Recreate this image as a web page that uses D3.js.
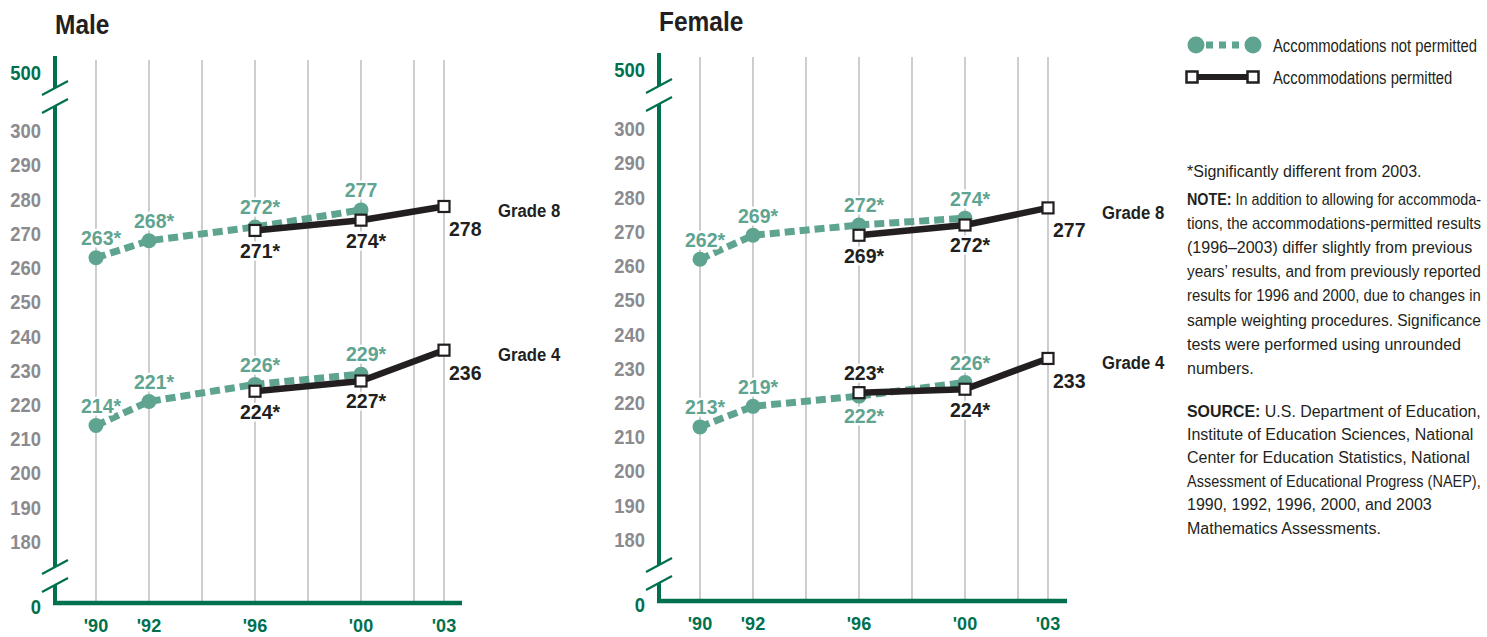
<!DOCTYPE html>
<html><head><meta charset="utf-8">
<script src="https://cdn.jsdelivr.net/npm/d3@7"></script>
<style>
html,body{margin:0;padding:0;background:#fff;overflow:hidden;}
svg{display:block}
</style></head><body>
<svg id="chart" width="1487" height="637"></svg>
<script>
// ---------- data ----------
const npYears = [1990, 1992, 1996, 2000];
const pYears = [1996, 2000, 2003];
const gridYears = [1990, 1992, 1994, 1996, 1998, 2000, 2002, 2003];
const xTickYears = [1990, 1992, 1996, 2000, 2003];
const xTickLabels = ["'90", "'92", "'96", "'00", "'03"];
const yTicks = [180, 190, 200, 210, 220, 230, 240, 250, 260, 270, 280, 290, 300];
const yEndTicks = [0, 500];

const maleG8NP = [263, 268, 272, 277];
const maleG8NPLabels = ["263*", "268*", "272*", "277"];
const maleG8P = [271, 274, 278];
const maleG8PLabels = ["271*", "274*", "278"];
const maleG4NP = [214, 221, 226, 229];
const maleG4NPLabels = ["214*", "221*", "226*", "229*"];
const maleG4P = [224, 227, 236];
const maleG4PLabels = ["224*", "227*", "236"];

const femaleG8NP = [262, 269, 272, 274];
const femaleG8NPLabels = ["262*", "269*", "272*", "274*"];
const femaleG8P = [269, 272, 277];
const femaleG8PLabels = ["269*", "272*", "277"];
const femaleG4NP = [213, 219, 222, 226];
const femaleG4NPLabels = ["213*", "219*", "222*", "226*"];
const femaleG4P = [223, 224, 233];
const femaleG4PLabels = ["223*", "224*", "233"];

const gradeNames = ["Grade 8", "Grade 4"];
const panelTitles = ["Male", "Female"];
const legendLabels = ["Accommodations not permitted", "Accommodations permitted"];
const footnote = "*Significantly different from 2003.";
const noteLines = [
  ["NOTE:", " In addition to allowing for accommoda-"],
  ["", "tions, the accommodations-permitted results"],
  ["", "(1996–2003) differ slightly from previous"],
  ["", "years’ results, and from previously reported"],
  ["", "results for 1996 and 2000, due to changes in"],
  ["", "sample weighting procedures. Significance"],
  ["", "tests were performed using unrounded"],
  ["", "numbers."]
];
const sourceLines = [
  ["SOURCE:", " U.S. Department of Education,"],
  ["", "Institute of Education Sciences, National"],
  ["", "Center for Education Statistics, National"],
  ["", "Assessment of Educational Progress (NAEP),"],
  ["", "1990, 1992, 1996, 2000, and 2003"],
  ["", "Mathematics Assessments."]
];

// ---------- style ----------
const FONT = '"Liberation Sans",Arial,sans-serif';
const DARKGREEN = "#00704f";
const LIGHTGREEN = "#5fa490";
const BLACK = "#231f20";
const GRAY = "#8b8a8e";
const GRID = "#b3b3b3";

const svg = d3.select("#chart");

// condensed text placement: translate to anchor, squeeze horizontally
function place(sel, fx, fy, sx) {
  sel.attr("transform", (d, i) => `translate(${fx(d, i)},${fy(d, i)}) scale(${sx},1)`);
}

const panels = [
  {
    title: panelTitles[0], axisX: 55, xRange: [96, 414, 444], baseEnd: 462,
    yRange: [603, 576, 97, 73],
    series: [
      {np: maleG8NP, npL: maleG8NPLabels, p: maleG8P, pL: maleG8PLabels,
       npPos: ["above","above","above","above"], pPos: ["below","below","end"], grade: gradeNames[0]},
      {np: maleG4NP, npL: maleG4NPLabels, p: maleG4P, pL: maleG4PLabels,
       npPos: ["above","above","above","above"], pPos: ["below","below","end"], grade: gradeNames[1]}
    ]
  },
  {
    title: panelTitles[1], axisX: 659, xRange: [700, 1018, 1048], baseEnd: 1067,
    yRange: [601, 574, 95, 70],
    series: [
      {np: femaleG8NP, npL: femaleG8NPLabels, p: femaleG8P, pL: femaleG8PLabels,
       npPos: ["above","above","above","above"], pPos: ["below","below","end"], grade: gradeNames[0]},
      {np: femaleG4NP, npL: femaleG4NPLabels, p: femaleG4P, pL: femaleG4PLabels,
       npPos: ["above","above","below","above"], pPos: ["above","below","end"], grade: gradeNames[1]}
    ]
  }
];

function drawPanel(P) {
  const g = svg.append("g");
  const x = d3.scaleLinear().domain([1990, 2002, 2003]).range(P.xRange);
  const y = d3.scaleLinear().domain([0, 170, 310, 500]).range(P.yRange);
  const ax = P.axisX;
  const top = y(500) - 17;

  // title
  g.append("text").attr("dy", "0.35em")
    .attr("font-family", FONT).attr("font-weight", "bold").attr("font-size", 28.5)
    .attr("fill", BLACK).text(P.title)
    .call(place, () => ax, () => y(500) - 49, 0.86);

  // gridlines
  g.selectAll(".grid").data(gridYears).join("line")
    .attr("x1", d => x(d)).attr("x2", d => x(d))
    .attr("y1", y(500) - 13).attr("y2", y(0))
    .attr("stroke", GRID).attr("stroke-width", 1.3);

  // y axis with breaks
  const b1 = y(310), b2 = y(170), gap = 9;
  const segs = [[top, b1 - gap], [b1 + gap, b2 - gap], [b2 + gap, y(0) + 2]];
  g.selectAll(".ax").data(segs).join("line")
    .attr("x1", ax).attr("x2", ax).attr("y1", d => d[0]).attr("y2", d => d[1])
    .attr("stroke", DARKGREEN).attr("stroke-width", 4);
  const marks = [b1 - gap, b1 + gap, b2 - gap, b2 + gap];
  g.selectAll(".brk").data(marks).join("line")
    .attr("x1", ax - 13).attr("y1", d => d + 7).attr("x2", ax + 13).attr("y2", d => d - 7)
    .attr("stroke", DARKGREEN).attr("stroke-width", 2.2);

  // baseline
  g.append("line").attr("x1", ax - 2).attr("x2", P.baseEnd).attr("y1", y(0)).attr("y2", y(0))
    .attr("stroke", DARKGREEN).attr("stroke-width", 4.5);

  // y tick labels
  g.selectAll(".yt").data(yTicks).join("text")
    .attr("dy", "0.35em").attr("text-anchor", "end")
    .attr("font-family", FONT).attr("font-weight", "bold")
    .attr("font-size", 20).attr("fill", GRAY).text(d => d)
    .call(place, () => ax - 14, d => y(d), 0.92);
  g.selectAll(".ye").data(yEndTicks).join("text")
    .attr("dy", "0.35em").attr("text-anchor", "end")
    .attr("font-family", FONT).attr("font-weight", "bold")
    .attr("font-size", 20).attr("fill", DARKGREEN).text(d => d)
    .call(place, () => ax - 14, d => y(d) + (d === 0 ? 4 : 0), 0.92);

  // x tick labels
  g.selectAll(".xt").data(xTickYears).join("text")
    .attr("dy", "0.35em").attr("text-anchor", "middle")
    .attr("font-family", FONT).attr("font-weight", "bold")
    .attr("font-size", 19).attr("fill", DARKGREEN).text((d, i) => xTickLabels[i])
    .call(place, d => x(d), () => y(0) + 22, 0.95);

  const line = d3.line().x(d => x(d.year)).y(d => y(d.value));
  const labelsLayer = [];

  P.series.forEach(s => {
    const np = npYears.map((yr, i) => ({year: yr, value: s.np[i], label: s.npL[i], pos: s.npPos[i]}));
    const pp = pYears.map((yr, i) => ({year: yr, value: s.p[i], label: s.pL[i], pos: s.pPos[i]}));
    // not permitted
    g.append("path").datum(np).attr("d", line).attr("fill", "none")
      .attr("stroke", LIGHTGREEN).attr("stroke-width", 7).attr("stroke-dasharray", "10,5");
    g.selectAll(null).data(np).join("circle")
      .attr("cx", d => x(d.year)).attr("cy", d => y(d.value)).attr("r", 7.5)
      .attr("fill", LIGHTGREEN);
    // permitted
    g.append("path").datum(pp).attr("d", line).attr("fill", "none")
      .attr("stroke", BLACK).attr("stroke-width", 6.5).attr("stroke-linejoin", "round");
    g.selectAll(null).data(pp).join("rect")
      .attr("x", d => x(d.year) - 5.5).attr("y", d => y(d.value) - 5.5)
      .attr("width", 11).attr("height", 11)
      .attr("fill", "#fff").attr("stroke", BLACK).attr("stroke-width", 2.2);
    np.forEach(d => labelsLayer.push({...d, color: LIGHTGREEN}));
    pp.forEach(d => labelsLayer.push({...d, color: BLACK}));
    // grade label
    g.append("text").attr("dy", "0.35em")
      .attr("font-family", FONT).attr("font-weight", "bold").attr("font-size", 19)
      .attr("fill", BLACK).text(s.grade)
      .call(place, () => x(2003) + 54, () => y(s.p[2]) + 4, 0.88);
  });

  g.selectAll(".lbl").data(labelsLayer).join("text")
    .attr("dy", "0.35em")
    .attr("text-anchor", d => d.pos === "end" ? "start" : "middle")
    .attr("font-family", FONT).attr("font-weight", "bold").attr("font-size", 21)
    .attr("fill", d => d.color)
    .attr("stroke", "#fff").attr("stroke-width", 5).attr("stroke-linejoin", "round")
    .attr("paint-order", "stroke")
    .text(d => d.label)
    .call(place,
      d => d.pos === "end" ? x(d.year) + 5 : x(d.year) + (d.label.endsWith("*") ? 5 : 0),
      d => y(d.value) + (d.pos === "above" ? -20 : d.pos === "below" ? 20 : 22),
      0.93);
}

panels.forEach(drawPanel);

// ---------- legend ----------
const lg = svg.append("g");
const lx = d3.scaleLinear().domain([0, 1]).range([1196, 1253]);
const ly = d3.scalePoint().domain(legendLabels).range([45, 77]);
lg.append("line").attr("x1", lx(0)).attr("x2", lx(1)).attr("y1", ly(legendLabels[0])).attr("y2", ly(legendLabels[0]))
  .attr("stroke", LIGHTGREEN).attr("stroke-width", 7).attr("stroke-dasharray", "7,6").attr("stroke-dashoffset", -10);
lg.selectAll(null).data([0, 1]).join("circle")
  .attr("cx", d => lx(d)).attr("cy", ly(legendLabels[0])).attr("r", 8.5).attr("fill", LIGHTGREEN);
lg.append("line").attr("x1", lx(0) - 4).attr("x2", lx(1)).attr("y1", ly(legendLabels[1])).attr("y2", ly(legendLabels[1]))
  .attr("stroke", BLACK).attr("stroke-width", 6);
lg.selectAll(null).data([-4, 0]).join("rect")
  .attr("x", (d, i) => lx(i) + d - 5.5).attr("y", ly(legendLabels[1]) - 5.5)
  .attr("width", 11).attr("height", 11).attr("fill", "#fff").attr("stroke", BLACK).attr("stroke-width", 2.5);
lg.selectAll(".lt").data(legendLabels).join("text")
  .attr("dy", "0.35em")
  .attr("font-family", FONT).attr("font-size", 19).attr("fill", BLACK).text(d => d)
  .call(place, () => 1273, d => ly(d), 0.78);

// ---------- notes ----------
const NOTE_X = 1187, NOTE_MAXW = 294;
const ng = svg.append("g").attr("font-family", FONT).attr("font-size", 16).attr("fill", BLACK);
const allNotes = [["", footnote]].concat(noteLines, sourceLines);
const noteY = [171].concat(noteLines.map((d, i) => 199 + i * 24.2), sourceLines.map((d, i) => 411 + i * 23.4));
const nt = ng.selectAll(".nl").data(allNotes).join("text").attr("dy", "0.35em");
nt.append("tspan").attr("font-weight", "bold").text(d => d[0]);
nt.append("tspan").text(d => d[1]);
// squeeze lines that would run past the page edge
nt.each(function (d, i) {
  const w = this.getComputedTextLength();
  const s = w > NOTE_MAXW ? NOTE_MAXW / w : 1;
  d3.select(this).attr("transform", `translate(${NOTE_X},${noteY[i]}) scale(${s},1)`);
});
</script>
</body></html>
